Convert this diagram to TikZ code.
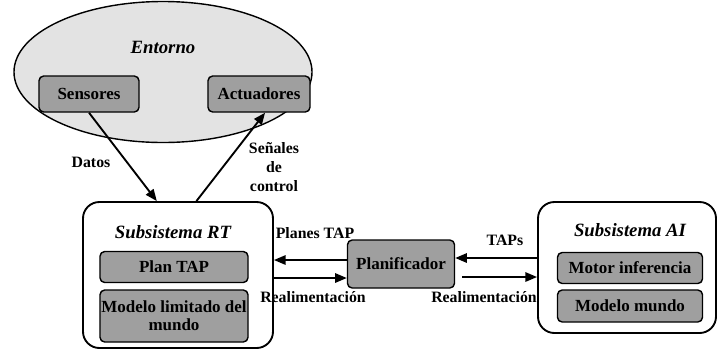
\documentclass[tikz,border=0pt]{standalone}
\usepackage{fontspec}
\setmainfont{Liberation Serif}
\usetikzlibrary{arrows.meta,positioning,shapes.geometric}

\begin{document}
\begin{tikzpicture}[
    x=0.03cm,y=-0.03cm,
    inner/.style={draw,line width=1.2pt,rounded corners=4pt,fill=gray!75,
      font=\fontsize{14.5}{15.5}\selectfont\bfseries,align=center,inner sep=0.5pt},
    subsys/.style={draw,line width=1.6pt,rounded corners=14pt,fill=white},
    lbl/.style={font=\fontsize{13.5}{16}\selectfont\bfseries,align=center},
    title/.style={font=\fontsize{16}{18}\selectfont\bfseries\itshape},
    flow/.style={->,line width=1.6pt},
    >={Triangle[length=10pt,width=8pt]}]
  \useasboundingbox (0,0) rectangle (719,351);
  % environment
  \node[ellipse,draw,line width=1.2pt,fill=gray!22,minimum width=8.94cm,
    minimum height=4.23cm,inner sep=0pt] (env) at (163,72) {};
  \node[title] (envt) at (163,47) {Entorno};
  \node[inner,minimum width=3cm,minimum height=1.08cm] (sens) at (89,94) {Sensores};
  \node[inner,minimum width=3.06cm,minimum height=1.08cm] (act) at (259,94) {Actuadores};
  % RT subsystem
  \node[subsys,minimum width=5.7cm,minimum height=4.38cm] (rt) at (178,275) {};
  \node[title] (rtt) at (173,232) {Subsistema RT};
  \node[inner,minimum width=4.44cm,minimum height=0.93cm] (plan) at (174,267) {Plan TAP};
  \node[inner,minimum width=4.44cm,minimum height=1.56cm] (model) at (174,316)
    {Modelo limitado del\\mundo};
  % planner
  \node[inner,minimum width=3.21cm,minimum height=1.44cm] (pl) at (401,264) {Planificador};
  % AI subsystem
  \node[subsys,minimum width=5.34cm,minimum height=3.93cm] (ai) at (627,267.5) {};
  \node[title] (ait) at (630,230) {Subsistema AI};
  \node[inner,minimum width=4.35cm,minimum height=0.93cm] (motor) at (630,268) {Motor inferencia};
  \node[inner,minimum width=4.35cm,minimum height=0.96cm] (world) at (630,306) {Modelo mundo};
  % connectors
  \draw[flow] (sens.south) -- (rt.106);
  \draw[flow] (rt.76) -- (act.288);
  \draw[flow] ([yshift=0.12cm]pl.west) -- ([yshift=0.12cm]pl.west -| rt.east);
  \draw[flow] ([yshift=-0.42cm]pl.west -| rt.east) -- ([yshift=-0.42cm]pl.west);
  \draw[flow] ([yshift=0.18cm]pl.east -| ai.west) -- ([yshift=0.18cm]pl.east);
  \draw[flow,shorten <=0.21cm] ([yshift=-0.39cm]pl.east) -- ([yshift=-0.39cm]pl.east -| ai.west);
  % labels
  \node[lbl] (datos) at (91,162) {Datos};
  \node[lbl] (senal) at (274,167) {Señales\\de\\control};
  \node[lbl] (planes) at (315,233) {Planes TAP};
  \node[lbl] (realim1) at (313,297) {Realimentación};
  \node[lbl] (taps) at (505,240) {TAPs};
  \node[lbl] (realim2) at (484,297) {Realimentación};
\end{tikzpicture}
\end{document}
